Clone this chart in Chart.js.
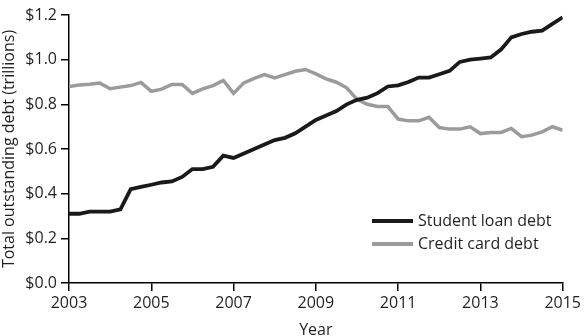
<!DOCTYPE html>
<html>
<head>
<meta charset="utf-8">
<script src="https://cdn.jsdelivr.net/npm/chart.js@4"></script>
<style>
html,body{margin:0;padding:0;background:#fff}
canvas{display:block}
</style>
</head>
<body>
<canvas id="debtChart" width="584" height="336"></canvas>
<script>
// quarterly readings, 2003 Q1 .. 2015 Q1 (trillions of dollars)
let startYear = 2003
let studentLoan = [0.31,0.31,0.32,0.32,0.32,0.33,0.42,0.43,0.44,0.45,0.455,0.475,
0.51,0.51,0.52,0.57,0.56,0.58,0.60,0.62,0.64,0.65,0.67,0.70,
0.73,0.75,0.77,0.80,0.82,0.83,0.85,0.88,0.885,0.90,0.92,0.92,
0.935,0.95,0.99,1.0,1.005,1.01,1.045,1.10,1.115,1.125,1.13,1.16,1.19]
let creditCard = [0.88,0.887,0.89,0.895,0.87,0.877,0.884,0.898,0.858,0.868,0.889,0.889,
0.849,0.869,0.884,0.907,0.849,0.896,0.916,0.933,0.918,0.933,0.948,0.956,
0.936,0.914,0.899,0.874,0.822,0.80,0.79,0.79,0.734,0.726,0.726,0.742,
0.696,0.689,0.689,0.699,0.669,0.674,0.674,0.692,0.655,0.662,0.677,0.70,0.684]
let yearTicks = [2003,2005,2007,2009,2011,2013,2015]
let seriesNames = ["Student loan debt","Credit card debt"]
let seriesColors = ["#1a1a1a","#9b9b9b"]

function toPoints(values){
return values.map((v,i)=>({x:startYear+i*0.25,y:v}))
}

let font = "'Open Sans', 'DejaVu Sans', sans-serif"
let textColor = "#231f20"

// legend sits inside the plot, lower right
let insideLegend = {
id:"insideLegend",
afterDraw(chart){
let c = chart.ctx
let x0 = 372, y0 = 221
c.save()
seriesNames.forEach((name,i)=>{
let y = y0 + i*23
c.strokeStyle = seriesColors[i]
c.lineWidth = 4
c.beginPath()
c.moveTo(x0,y)
c.lineTo(x0+41,y)
c.stroke()
c.fillStyle = textColor
c.font = "16px " + font
c.textBaseline = "middle"
c.fillText(name,x0+46,y)
})
c.restore()
}
}

new Chart(document.getElementById("debtChart"),{
type:"line",
data:{
datasets:[
{label:seriesNames[0],data:toPoints(studentLoan),borderColor:seriesColors[0],borderWidth:3.8,pointRadius:0,tension:0},
{label:seriesNames[1],data:toPoints(creditCard),borderColor:seriesColors[1],borderWidth:3.5,pointRadius:0,tension:0}
]
},
options:{
responsive:false,
animation:false,
devicePixelRatio:1,
layout:{padding:{top:15,right:19,left:0,bottom:0}},
plugins:{legend:{display:false},tooltip:{enabled:false}},
scales:{
x:{
type:"linear",
min:2003,max:2015,
afterBuildTicks:s=>{s.ticks=yearTicks.map(v=>({value:v}))},
afterFit:s=>{s.height=53},
ticks:{color:textColor,font:{family:font,size:16},padding:3,maxRotation:0,callback:v=>String(v)},
grid:{drawOnChartArea:false,drawTicks:true,tickLength:8,color:"#000",lineWidth:1.5},
border:{color:"#000",width:1.5},
title:{display:true,text:"Year",color:textColor,font:{family:font,size:16},padding:{top:4,bottom:-4}}
},
y:{
min:0,max:1.2,
afterFit:s=>{s.width=69},
ticks:{stepSize:0.2,color:textColor,font:{family:font,size:16},padding:4,callback:v=>"$"+v.toFixed(1)},
grid:{drawOnChartArea:false,drawTicks:true,tickLength:8,color:"#000",lineWidth:1.5},
border:{color:"#000",width:1.5},
title:{display:true,text:"Total outstanding debt (trillions)",color:textColor,font:{family:font,size:16},padding:{top:0,bottom:0}}
}
}
},
plugins:[insideLegend]
})
</script>
</body>
</html>
